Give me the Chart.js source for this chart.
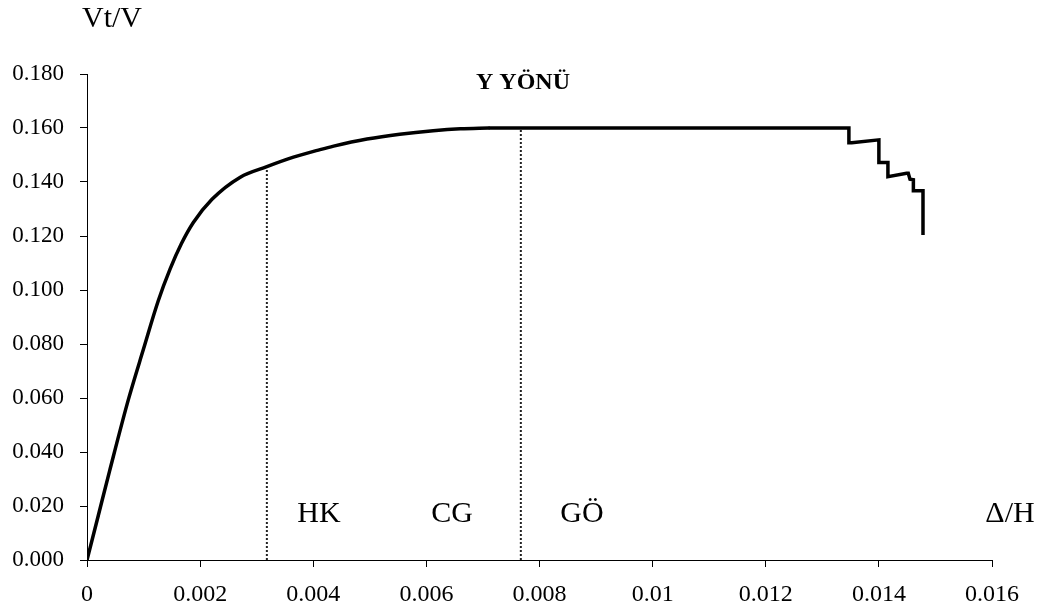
<!DOCTYPE html>
<html><head><meta charset="utf-8">
<script src="https://cdn.jsdelivr.net/npm/chart.js@4.4.1/dist/chart.umd.min.js"></script>
<style>html,body{margin:0;padding:0;background:#fff}#wrap{width:1046px;height:614px;position:relative}</style>
</head><body><div id="wrap"><canvas id="c"></canvas></div>
<script>
// ---- data ----
const curveX = [0, 0.0002, 0.0004, 0.00073, 0.00100, 0.00126, 0.00147, 0.00167, 0.00188, 0.00221, 0.00271, 0.00318, 0.00365, 0.00412, 0.00436, 0.00495, 0.00553, 0.00612, 0.00660, 0.00710];
const curveY = [0, 0.0165, 0.0330, 0.0593, 0.0782, 0.0960, 0.1078, 0.1172, 0.1250, 0.1336, 0.1418, 0.1457, 0.1492, 0.1520, 0.1533, 0.1559, 0.1577, 0.1590, 0.1597, 0.1600];
const stepX = [0.00710, 0.01347, 0.01347, 0.01352, 0.01400, 0.01400, 0.01416, 0.01416, 0.01449, 0.01452, 0.01455, 0.01461, 0.01461, 0.01478, 0.01478];
const stepY = [0.1600, 0.1600, 0.1545, 0.1545, 0.1556, 0.1472, 0.1472, 0.1420, 0.1432, 0.1432, 0.1410, 0.1408, 0.1368, 0.1368, 0.1204];
const markX = [0.00318, 0.00767];
const markTop = [0.1457, 0.1600];
const xTickLabels = ['0', '0.002', '0.004', '0.006', '0.008', '0.01', '0.012', '0.014', '0.016'];
const yTickLabels = ['0.000', '0.020', '0.040', '0.060', '0.080', '0.100', '0.120', '0.140', '0.160', '0.180'];
const regionLabels = ['HK', 'CG', 'GÖ'];
const xAxisTitle = 'Δ/H';
const yAxisTitle = 'Vt/V';
const chartTitle = 'Y YÖNÜ';

const SERIF = "'Liberation Serif', 'Times New Roman', serif";
const toPts = (xs, ys) => xs.map((x, i) => ({x: x, y: ys[i]}));

const datasets = [
  {data: toPts(curveX, curveY), borderColor: '#000', borderWidth: 3.5, pointRadius: 0, cubicInterpolationMode: 'monotone', showLine: true, borderCapStyle: 'round', borderJoinStyle: 'round'},
  {data: toPts(stepX, stepY), borderColor: '#000', borderWidth: 3.5, pointRadius: 0, tension: 0, showLine: true, borderCapStyle: 'butt', borderJoinStyle: 'miter'}
];
markX.forEach((mx, i) => {
  datasets.push({data: [{x: mx, y: 0}, {x: mx, y: markTop[i]}], borderColor: '#222', borderWidth: 2, borderDash: [2, 2], pointRadius: 0, showLine: true});
});

const textPlugin = {
  id: 'texts',
  afterDraw(chart) {
    const ctx = chart.ctx;
    ctx.save();
    ctx.fillStyle = '#000';
    ctx.textAlign = 'center';
    ctx.textBaseline = 'middle';
    ctx.font = '30px ' + SERIF;
    const lblPos = [[319, 514], [452, 514], [582, 514]];
    regionLabels.forEach((t, i) => ctx.fillText(t, lblPos[i][0], lblPos[i][1]));
    ctx.fillText(xAxisTitle, 1010, 514);
    ctx.fillText(yAxisTitle, 112, 19);
    ctx.font = 'bold 24px ' + SERIF;
    ctx.fillText(chartTitle, 523, 83);
    ctx.restore();
  }
};

new Chart(document.getElementById('c'), {
  type: 'scatter',
  data: {datasets: datasets},
  options: {
    responsive: true, maintainAspectRatio: false, animation: false,
    layout: {padding: {top: 74, right: 54, left: 0, bottom: 0}},
    plugins: {legend: {display: false}, tooltip: {enabled: false}},
    scales: {
      x: {
        type: 'linear', min: 0, max: 0.016,
        afterFit(s) { s.height = 54; },
        ticks: {stepSize: 0.002, color: '#000', padding: 13, font: {family: SERIF, size: 24},
          callback: (v, i) => xTickLabels[i]},
        grid: {drawOnChartArea: false, drawTicks: true, tickLength: 7, color: '#000'},
        border: {display: true, color: '#000', width: 1}
      },
      y: {
        type: 'linear', min: 0, max: 0.18,
        afterFit(s) { s.width = 87; },
        ticks: {stepSize: 0.02, color: '#000', padding: 16, font: {family: SERIF, size: 23},
          callback: (v, i) => yTickLabels[i]},
        grid: {drawOnChartArea: false, drawTicks: true, tickLength: 7, color: '#000'},
        border: {display: true, color: '#000', width: 1}
      }
    }
  },
  plugins: [textPlugin]
});
</script>
</body></html>
